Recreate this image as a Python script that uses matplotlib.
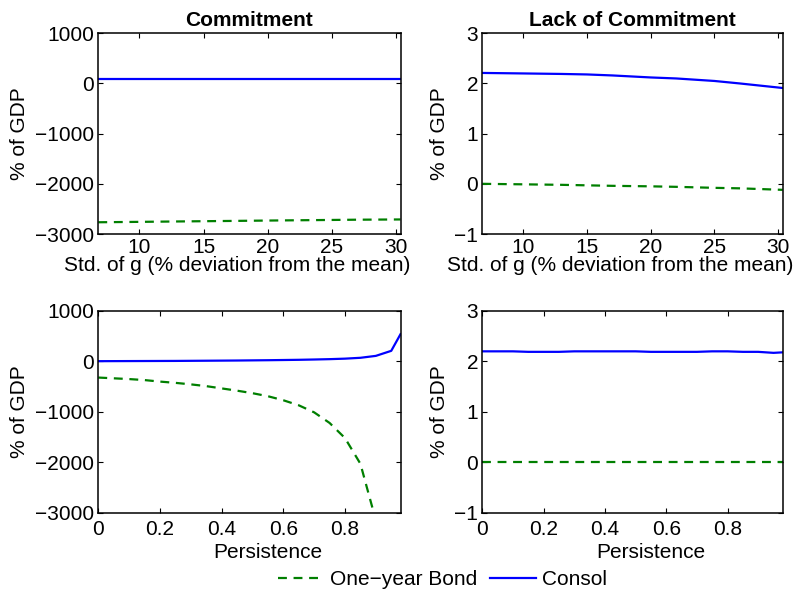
import numpy as np
import matplotlib
matplotlib.use("Agg")
import matplotlib.pyplot as plt

plt.rcParams['font.family'] = ['Liberation Sans', 'DejaVu Sans']
plt.rcParams['font.size'] = 15

# Std. of g (% deviation from the mean)
std_g = [6.8, 10, 13, 15, 17, 20, 22, 25, 27, 30.35]
commit_bond_std = [-2766, -2758, -2750, -2745, -2740, -2732, -2727, -2720, -2715, -2710]
commit_consol_std = [80, 80, 80, 80, 80, 80, 80, 80, 80, 80]
lack_bond_std = [0.0, -0.01, -0.02, -0.03, -0.04, -0.05, -0.06, -0.08, -0.09, -0.12]
lack_consol_std = [2.21, 2.20, 2.19, 2.18, 2.16, 2.12, 2.10, 2.05, 2.00, 1.91]

# Persistence of g
persistence = [0, 0.05, 0.1, 0.15, 0.2, 0.25, 0.3, 0.35, 0.4, 0.45, 0.5,
               0.55, 0.6, 0.65, 0.7, 0.75, 0.8, 0.85, 0.9, 0.95, 0.98]
commit_bond_rho = [-320, -335, -350, -370, -400, -425, -455, -490, -535, -580, -630,
                   -690, -770, -870, -1010, -1220, -1520, -2030, -3150, -6000, -15000]
commit_consol_rho = [5, 6, 7, 8, 9, 10, 12, 14, 16, 18, 21,
                     24, 28, 32, 38, 45, 55, 72, 110, 210, 540]
lack_bond_rho = [0.0] * 21
lack_consol_rho = [2.20, 2.20, 2.20, 2.19, 2.19, 2.19, 2.20, 2.20, 2.20, 2.20, 2.20,
                   2.19, 2.19, 2.19, 2.19, 2.20, 2.20, 2.19, 2.19, 2.17, 2.18]

fig = plt.figure(figsize=(8.05, 5.94), dpi=100)
W, H = 805, 594

def px_axes(x0, y0, x1, y1):
    return fig.add_axes([x0 / W, 1 - y1 / H, (x1 - x0) / W, (y1 - y0) / H])

ax1 = px_axes(98.3, 33.3, 400.5, 234)
ax2 = px_axes(482.3, 33.3, 782.7, 234)
ax3 = px_axes(98.3, 311, 400.5, 512.7)
ax4 = px_axes(482.3, 311, 782.7, 512.7)

green = '#007f00'
blue = '#0000ff'
dash_kw = dict(color=green, lw=1.6, linestyle=(0, (4, 3)))
solid_kw = dict(color=blue, lw=1.6)

def style(ax, xpad):
    ax.tick_params(direction='in', length=3.5, width=0.8, top=True, right=True,
                   labelsize=15)
    ax.tick_params(axis='x', pad=xpad)
    ax.tick_params(axis='y', pad=3)
    for s in ax.spines.values():
        s.set_linewidth(1.1)
    ax.set_ylabel('% of GDP', labelpad=4)

ax1.plot(std_g, commit_bond_std, **dash_kw)
ax1.plot(std_g, commit_consol_std, **solid_kw)
ax1.set_xlim(6.8, 30.35)
ax1.set_ylim(-3000, 1000)
ax1.set_yticks([-3000, -2000, -1000, 0, 1000])
ax1.set_xticks([10, 15, 20, 25, 30])
ax1.set_title('Commitment', fontweight='bold', fontsize=15, pad=5)
ax1.set_xlabel('Std. of g (% deviation from the mean)')

ax2.plot(std_g, lack_bond_std, **dash_kw)
ax2.plot(std_g, lack_consol_std, **solid_kw)
ax2.set_xlim(6.8, 30.35)
ax2.set_ylim(-1, 3)
ax2.set_yticks([-1, 0, 1, 2, 3])
ax2.set_xticks([10, 15, 20, 25, 30])
ax2.set_title('Lack of Commitment', fontweight='bold', fontsize=15, pad=5)
ax2.set_xlabel('Std. of g (% deviation from the mean)')

l1, = ax3.plot(persistence, commit_bond_rho, **dash_kw)
l2, = ax3.plot(persistence, commit_consol_rho, **solid_kw)
ax3.set_xlim(0, 0.98)
ax3.set_ylim(-3000, 1000)
ax3.set_yticks([-3000, -2000, -1000, 0, 1000])
ax3.set_xticks([0, 0.2, 0.4, 0.6, 0.8])
ax3.set_xticklabels(['0', '0.2', '0.4', '0.6', '0.8'])
ax3.set_xlabel('Persistence')

ax4.plot(persistence, lack_bond_rho, **dash_kw)
ax4.plot(persistence, lack_consol_rho, **solid_kw)
ax4.set_xlim(0, 0.98)
ax4.set_ylim(-1, 3)
ax4.set_yticks([-1, 0, 1, 2, 3])
ax4.set_xticks([0, 0.2, 0.4, 0.6, 0.8])
ax4.set_xticklabels(['0', '0.2', '0.4', '0.6', '0.8'])
ax4.set_xlabel('Persistence')

for ax in (ax1, ax2):
    style(ax, 3)
    ax.xaxis.set_label_coords(0.46, -0.112)
for ax in (ax3, ax4):
    style(ax, 5)
    ax.xaxis.set_label_coords(0.56, -0.148)

fig.legend([l1, l2], ['One\u2212year Bond', 'Consol'], loc='center',
           bbox_to_anchor=(0.55, 0.024), ncol=2, frameon=False,
           handlelength=2.2, handletextpad=0.3, columnspacing=0.6, fontsize=15)

fig.savefig('out.png', dpi=100)
